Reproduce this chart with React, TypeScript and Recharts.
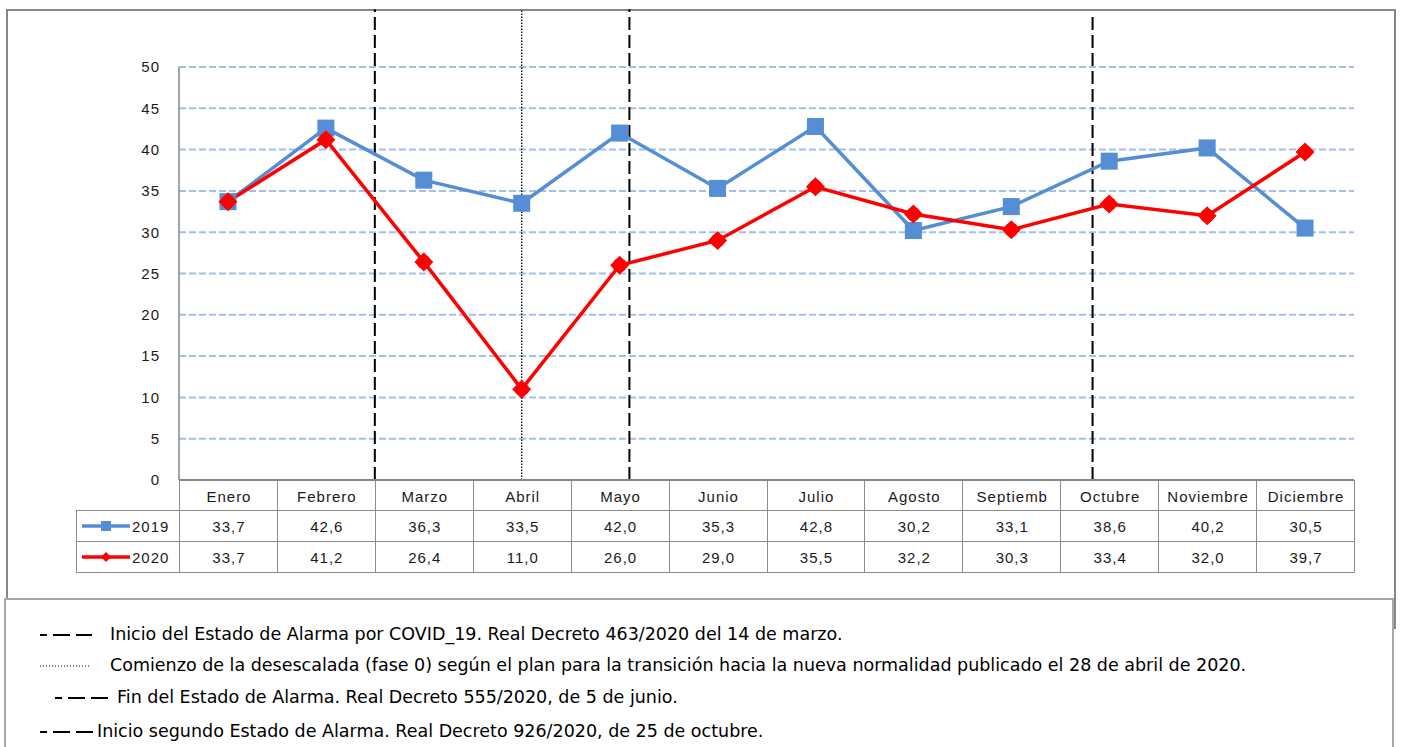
import { LineChart, Line, XAxis, YAxis, CartesianGrid, ReferenceLine } from "recharts";

const months = [
  "Enero", "Febrero", "Marzo", "Abril", "Mayo", "Junio",
  "Julio", "Agosto", "Septiemb", "Octubre", "Noviembre", "Diciembre",
];
const values2019 = [33.7, 42.6, 36.3, 33.5, 42.0, 35.3, 42.8, 30.2, 33.1, 38.6, 40.2, 30.5];
const values2020 = [33.7, 41.2, 26.4, 11.0, 26.0, 29.0, 35.5, 32.2, 30.3, 33.4, 32.0, 39.7];
const yTicks = [0, 5, 10, 15, 20, 25, 30, 35, 40, 45, 50];

// event markers, x in month index units (0 = Enero)
const events = [
  { x: 1.5, top: 57, dotted: false },
  { x: 3, top: 57, dotted: true },
  { x: 4.1, top: 57, dotted: false },
  { x: 8.83, top: 56.3, dotted: false },
];

const notes = [
  { text: "Inicio del Estado de Alarma por COVID_19. Real Decreto 463/2020 del 14 de marzo.", dotted: false },
  { text: "Comienzo de la desescalada (fase 0) según el plan para la transición hacia la nueva normalidad publicado el 28 de abril de 2020.", dotted: true },
  { text: "Fin del Estado de Alarma. Real Decreto 555/2020, de 5 de junio.", dotted: false },
  { text: "Inicio segundo Estado de Alarma. Real Decreto 926/2020, de 25 de octubre.", dotted: false },
];

const data = months.map((m, i) => ({ idx: i, month: m, y2019: values2019[i], y2020: values2020[i] }));

const BLUE = "#558ED5";
const RED = "#FF0000";
const BORDER = "#8C8C8C";
const PLOT_LEFT = 179;
const PLOT_RIGHT = 1354;
const COL_W = (PLOT_RIGHT - PLOT_LEFT) / 12;
const TABLE_FONT = "'Liberation Sans', Arial, sans-serif";

const fmt = (v: number) => v.toFixed(1).replace(".", ",");

const SquareDot = (props: any) => {
  const { cx, cy } = props;
  if (cx == null || cy == null) return null;
  return <rect x={cx - 8.5} y={cy - 8.5} width={17} height={17} fill={BLUE} />;
};

const DiamondDot = (props: any) => {
  const { cx, cy } = props;
  if (cx == null || cy == null) return null;
  const r = 9.5;
  return (
    <g>
      <polygon points={`${cx},${cy - r} ${cx + r},${cy} ${cx},${cy + r} ${cx - r},${cy}`} fill={RED} />
      <circle cx={cx} cy={cy} r={7} fill={RED} />
    </g>
  );
};

const KeyLine = ({ color, square }: { color: string; square: boolean }) => (
  <svg width={52} height={12} style={{ display: "block" }}>
    <line x1={2} y1={6} x2={50} y2={6} stroke={color} strokeWidth={3.5} />
    {square ? (
      <rect x={21} y={1} width={10} height={10} fill={color} />
    ) : (
      <polygon points="26,1 31,6 26,11 21,6" fill={color} />
    )}
  </svg>
);

const DashKey = ({ dotted, width }: { dotted: boolean; width: number }) => (
  <svg width={width} height={6} style={{ display: "block" }}>
    {dotted ? (
      <line x1={0} y1={3} x2={width} y2={3} stroke="#000" strokeWidth={1} strokeDasharray="1 2" />
    ) : (
      <line x1={0} y1={3} x2={width} y2={3} stroke="#000" strokeWidth={2} strokeDasharray="7 6 17 6 17" />
    )}
  </svg>
);

const cellStyle = (left: number, top: number, width: number, height: number): React.CSSProperties => ({
  position: "absolute",
  left,
  top,
  width,
  height,
  boxSizing: "border-box",
  borderLeft: `1px solid ${BORDER}`,
  borderTop: `1px solid ${BORDER}`,
  display: "flex",
  alignItems: "center",
  justifyContent: "center",
  fontFamily: TABLE_FONT,
  fontSize: 15,
  letterSpacing: 1,
  color: "#1a1a1a",
});

const App = () => {
  const rows = [
    { label: "2019", values: values2019, color: BLUE, square: true },
    { label: "2020", values: values2020, color: RED, square: false },
  ];

  return (
    <div style={{ position: "absolute", left: 0, top: 0, width: 1404, height: 747, overflow: "hidden", background: "#fff" }}>
      {/* chart frame */}
      <div style={{ position: "absolute", left: 6, top: 9, width: 1390, height: 620, boxSizing: "border-box", border: "2px solid #868686" }} />

      <div style={{ position: "absolute", left: 0, top: 0 }}>
        <LineChart width={1404} height={598} data={data} margin={{ top: 67, right: 50, bottom: 118, left: 119 }}>
          <CartesianGrid vertical={false} stroke="#A6BDE7" strokeWidth={2} strokeDasharray="7 3" />
          <XAxis dataKey="idx" type="number" domain={[-0.5, 11.5]} hide />
          <YAxis
            type="number"
            domain={[0, 50]}
            ticks={yTicks}
            width={60}
            axisLine={{ stroke: "#868686", strokeWidth: 1.5 }}
            tickLine={false}
            tickSize={8}
            tickMargin={11}
            tick={{ fontSize: 15, fill: "#1a1a1a", fontFamily: TABLE_FONT, letterSpacing: 1 }}
          />
          {events.map((e, i) => (
            <ReferenceLine
              key={i}
              segment={[{ x: e.x, y: 0 }, { x: e.x, y: e.top }]}
              ifOverflow="visible"
              stroke="#000"
              strokeWidth={e.dotted ? 1.3 : 2}
              strokeDasharray={e.dotted ? "1.5 1.5" : "13 5"}
            />
          ))}
          <Line
            dataKey="y2019"
            stroke={BLUE}
            strokeWidth={3.5}
            dot={<SquareDot />}
            activeDot={false}
            isAnimationActive={false}
          />
          <Line
            dataKey="y2020"
            stroke={RED}
            strokeWidth={3.5}
            dot={<DiamondDot />}
            activeDot={false}
            isAnimationActive={false}
          />
        </LineChart>
      </div>

      {/* data table */}
      <div style={{ position: "absolute", left: 0, top: 0, width: 1404, height: 600 }}>
        {months.map((m, i) => (
          <div key={m} style={cellStyle(PLOT_LEFT + i * COL_W, 480, COL_W + 1, 31)}>{m}</div>
        ))}
        {rows.map((r, ri) => (
          <div key={r.label}>
            <div style={{ ...cellStyle(76, 510 + ri * 31, PLOT_LEFT - 76 + 1, 31), justifyContent: "flex-start", paddingLeft: 3 }}>
              <KeyLine color={r.color} square={r.square} />
              <span>{r.label}</span>
            </div>
            {r.values.map((v, i) => (
              <div key={i} style={cellStyle(PLOT_LEFT + i * COL_W, 510 + ri * 31, COL_W + 1, 31)}>{fmt(v)}</div>
            ))}
          </div>
        ))}
        {/* closing borders */}
        <div style={{ position: "absolute", left: PLOT_RIGHT, top: 480, width: 1, height: 92, background: BORDER }} />
        <div style={{ position: "absolute", left: 76, top: 572, width: PLOT_RIGHT - 76 + 1, height: 1, background: BORDER }} />
        <div style={{ position: "absolute", left: PLOT_LEFT, top: 479, width: PLOT_RIGHT - PLOT_LEFT, height: 2, background: "#868686" }} />
      </div>

      {/* notes box */}
      <div
        style={{
          position: "absolute",
          left: 4,
          top: 598,
          width: 1390,
          height: 170,
          boxSizing: "border-box",
          border: "2px solid #A6A6A6",
          background: "#fff",
          fontFamily: "'DejaVu Sans', Verdana, sans-serif",
          fontSize: 17.5,
          color: "#000",
        }}
      >
        {notes.map((n, i) => {
          const top = [22, 53, 85, 119][i];
          const keyLeft = [34, 34, 49, 34][i];
          const keyW = [52, 50, 53, 55][i];
          const textLeft = [104, 104, 111, 91][i];
          return (
            <div key={i}>
              <div style={{ position: "absolute", left: keyLeft, top: top + 10 }}>
                <DashKey dotted={n.dotted} width={keyW} />
              </div>
              <div style={{ position: "absolute", left: textLeft, top, whiteSpace: "nowrap", lineHeight: "24px" }}>{n.text}</div>
            </div>
          );
        })}
      </div>
    </div>
  );
};

export default App;
